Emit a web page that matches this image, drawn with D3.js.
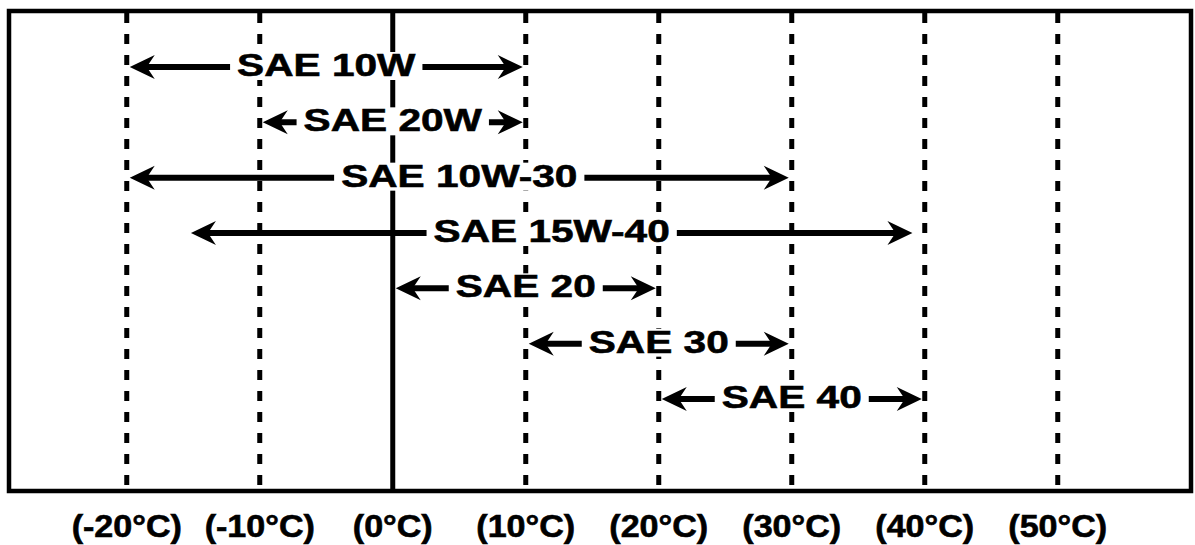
<!DOCTYPE html>
<html>
<head>
<meta charset="utf-8">
<script src="https://cdn.jsdelivr.net/npm/d3@7"></script>
<style>
  html, body { margin: 0; padding: 0; background: #fff; }
  svg { display: block; }
  text { font-family: "Liberation Sans", Arial, sans-serif; font-weight: bold; }
</style>
</head>
<body>
<svg id="chart" width="1195" height="545"></svg>
<script>
// ---- data ----
const temps = [-20, -10, 0, 10, 20, 30, 40, 50];
const tickLabels = ["(-20°C)", "(-10°C)", "(0°C)", "(10°C)", "(20°C)", "(30°C)", "(40°C)", "(50°C)"];
const grades = ["SAE 10W", "SAE 20W", "SAE 10W-30", "SAE 15W-40", "SAE 20", "SAE 30", "SAE 40"];
const minTemp = [-20, -10, -20, -15.4, 0, 10, 20];
const maxTemp = [10, 10, 30, 39.3, 20, 30, 40];

// ---- layout ----
const frame = { x0: 9, y0: 11, x1: 1191, y1: 491 };
const svg = d3.select("#chart");

const x = d3.scaleLinear().domain([-20, 50]).range([126.75, 1057.75]);
const y = d3.scalePoint().domain(grades).range([67, 399]);

// frame
svg.append("rect")
  .attr("x", frame.x0).attr("y", frame.y0)
  .attr("width", frame.x1 - frame.x0).attr("height", frame.y1 - frame.y0)
  .attr("fill", "#fff").attr("stroke", "#000").attr("stroke-width", 4.5);

// vertical temperature lines
svg.append("g").selectAll("line").data(temps).join("line")
  .attr("x1", d => x(d)).attr("x2", d => x(d))
  .attr("y1", frame.y0 + 2).attr("y2", frame.y1 - 2)
  .attr("stroke", "#000")
  .attr("stroke-width", 5)
  .attr("stroke-dasharray", d => d === 0 ? null : "10,11");

// tick labels
svg.append("g").selectAll("text").data(temps).join("text")
  .attr("transform", d => `translate(${x(d)},537) scale(1.1,1)`)
  .attr("text-anchor", "middle")
  .attr("font-size", 31)
  .attr("fill", "#000")
  .attr("stroke", "#000").attr("stroke-width", 0.6)
  .text((d, i) => tickLabels[i]);

// arrows
const headPath = "M0,0 L-25,-12 L-17,0 L-25,12 Z";
const rows = svg.append("g");
grades.forEach((g, i) => {
  const yy = y(g);
  const xa = x(minTemp[i]) + 3;
  const xb = x(maxTemp[i]) - 3;
  const grp = rows.append("g");
  grp.append("line")
    .attr("x1", xa + 10).attr("x2", xb - 10)
    .attr("y1", yy).attr("y2", yy)
    .attr("stroke", "#000").attr("stroke-width", 6);
  grp.append("path").attr("d", headPath)
    .attr("transform", `translate(${xb},${yy})`).attr("fill", "#000");
  grp.append("path").attr("d", headPath)
    .attr("transform", `translate(${xa},${yy}) rotate(180)`).attr("fill", "#000");
  const cx = (xa + xb) / 2;
  const sx = 1.27;
  const bg = grp.append("rect").attr("fill", "#fff");
  const t = grp.append("text")
    .attr("transform", `translate(${cx},${yy + 9}) scale(${sx},1)`)
    .attr("text-anchor", "middle")
    .attr("font-size", 32)
    .attr("fill", "#000")
    .attr("stroke", "#000").attr("stroke-width", 0.6)
    .text(g);
  const w = t.node().getComputedTextLength() * sx;
  bg.attr("x", cx - w / 2 - 7).attr("y", yy - 15)
    .attr("width", w + 14).attr("height", 28);
});
</script>
</body>
</html>
